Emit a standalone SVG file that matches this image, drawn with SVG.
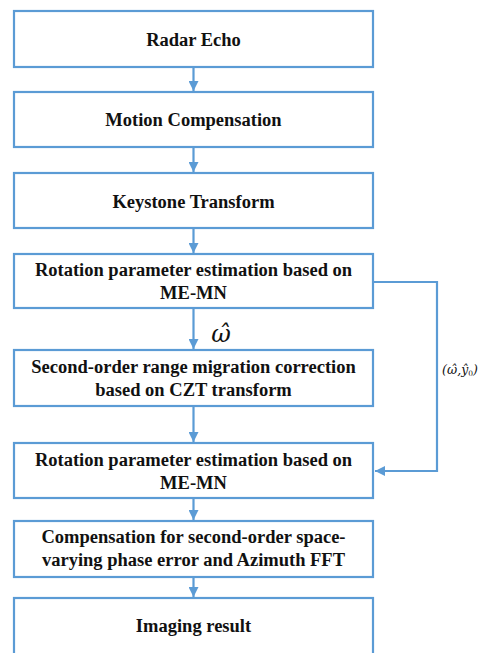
<svg xmlns="http://www.w3.org/2000/svg" width="480" height="653" viewBox="0 0 480 653">
<defs>
<marker id="ah" viewBox="0 0 10 10" refX="10" refY="5" markerWidth="10" markerHeight="10" markerUnits="userSpaceOnUse" orient="auto">
<path d="M0,0 L10,5 L0,10 Z" fill="#5B9BD5"/>
</marker>
<style>
.box{fill:#fff;stroke:#5B9BD5;stroke-width:2.2}
.t{font-family:'Liberation Serif','Times New Roman',serif;font-weight:bold;font-size:18.5px;fill:#111;text-anchor:middle}
.c{fill:none;stroke:#5B9BD5;stroke-width:2.2}
.m{font-family:'DejaVu Serif','Liberation Serif',serif;font-style:italic;fill:#111}
</style>
</defs>
<rect width="480" height="653" fill="#fff"/>
<g id="connectors">
<line class="c" x1="193.5" y1="67" x2="193.5" y2="91" marker-end="url(#ah)"/>
<line class="c" x1="193.5" y1="147" x2="193.5" y2="172" marker-end="url(#ah)"/>
<line class="c" x1="193.5" y1="228" x2="193.5" y2="253" marker-end="url(#ah)"/>
<line class="c" x1="193.5" y1="308" x2="193.5" y2="349" marker-end="url(#ah)"/>
<line class="c" x1="193.5" y1="406" x2="193.5" y2="442" marker-end="url(#ah)"/>
<line class="c" x1="193.5" y1="498" x2="193.5" y2="520" marker-end="url(#ah)"/>
<line class="c" x1="193.5" y1="577" x2="193.5" y2="597" marker-end="url(#ah)"/>
<polyline class="c" points="373,282 437,282 437,471 375,471" marker-end="url(#ah)"/>
<text class="m" x="221" y="342" font-size="24" text-anchor="middle">ω̂</text>
<text class="m" x="460" y="374" font-size="12.5" text-anchor="middle">(ω̂,ŷ<tspan font-size="7.5" dy="2" font-style="normal">0</tspan><tspan dy="-2">)</tspan></text>
</g>
<g id="n1"><rect class="box" x="14" y="11" width="359" height="56"/><text class="t" x="193.5" y="46">Radar Echo</text></g>
<g id="n2"><rect class="box" x="14" y="92" width="359" height="55"/><text class="t" x="193.5" y="126">Motion Compensation</text></g>
<g id="n3"><rect class="box" x="14" y="173" width="359" height="55"/><text class="t" x="193.5" y="208">Keystone Transform</text></g>
<g id="n4"><rect class="box" x="14" y="254" width="359" height="54"/><text class="t" x="193.5" y="276">Rotation parameter estimation based on</text><text class="t" x="193.5" y="299">ME-MN</text></g>
<g id="n5"><rect class="box" x="14" y="350" width="359" height="56"/><text class="t" x="193.5" y="373">Second-order range migration correction</text><text class="t" x="193.5" y="396">based on CZT transform</text></g>
<g id="n6"><rect class="box" x="14" y="443" width="359" height="55"/><text class="t" x="193.5" y="466">Rotation parameter estimation based on</text><text class="t" x="193.5" y="489">ME-MN</text></g>
<g id="n7"><rect class="box" x="14" y="521" width="359" height="56"/><text class="t" x="193.5" y="543">Compensation for second-order space-</text><text class="t" x="193.5" y="566">varying phase error and Azimuth FFT</text></g>
<g id="n8"><rect class="box" x="14" y="598" width="359" height="60"/><text class="t" x="193.5" y="632">Imaging result</text></g>
</svg>
